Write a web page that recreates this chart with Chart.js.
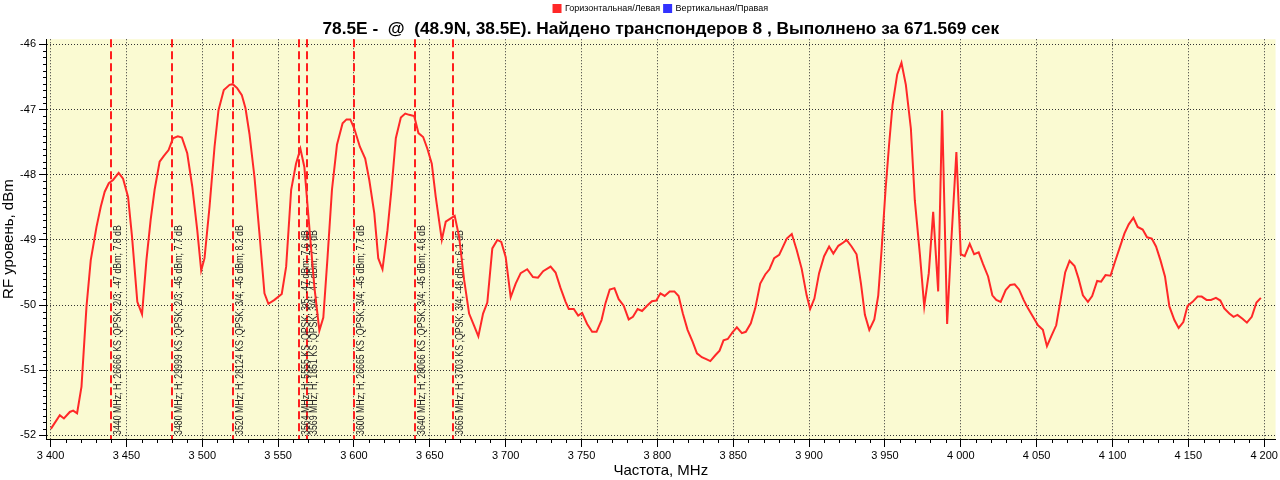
<!DOCTYPE html>
<html>
<head>
<meta charset="utf-8">
<script src="https://cdn.jsdelivr.net/npm/chart.js"></script>
<style>
html,body{margin:0;padding:0;background:#fff;}
</style>
</head>
<body>
<canvas id="spectrum" width="1280" height="480"></canvas>
<script>
/* spectrum scan data */
var freqMHz = [
  3400.2,3406.1,3408.8,3412.7,3414.9,3417.5,3420.4,3423.7,3426.5,3430.3,
  3433.1,3435.7,3438.4,3441.2,3444.9,3447.8,3451.1,3453.7,3457.2,3460.3,
  3463.2,3466.0,3468.6,3471.9,3474.7,3477.8,3480.7,3483.9,3486.6,3490.1,
  3493.4,3496.7,3499.3,3501.5,3504.8,3508.1,3510.7,3514.2,3518.0,3520.1,
  3523.0,3526.1,3528.5,3531.1,3534.4,3537.7,3541.0,3543.6,3547.6,3552.4,
  3555.3,3558.6,3561.8,3564.7,3567.3,3571.1,3573.9,3577.2,3579.8,3582.6,
  3585.5,3588.8,3592.5,3595.1,3597.6,3600.2,3603.9,3607.4,3610.1,3613.4,
  3616.0,3618.8,3622.1,3624.7,3627.6,3630.9,3633.8,3636.4,3639.7,3642.5,
  3645.6,3648.4,3651.3,3653.9,3657.9,3660.5,3663.8,3666.4,3669.3,3672.6,
  3675.9,3679.1,3682.0,3685.1,3687.9,3691.2,3694.5,3697.1,3700.0,3703.3,
  3706.6,3709.9,3714.2,3718.0,3721.3,3724.7,3729.6,3732.9,3736.2,3739.5,
  3741.6,3744.9,3747.8,3750.4,3753.7,3757.0,3759.9,3763.2,3765.8,3768.6,
  3771.7,3774.5,3777.8,3781.1,3783.9,3787.0,3789.9,3793.2,3796.4,3799.3,
  3802.0,3804.8,3808.1,3811.2,3814.0,3816.8,3819.9,3823.2,3826.1,3829.3,
  3832.2,3834.9,3838.2,3841.0,3843.6,3846.4,3849.5,3852.4,3855.7,3858.3,
  3861.6,3864.5,3867.8,3871.1,3873.9,3877.0,3880.3,3885.3,3888.6,3891.8,
  3895.1,3898.4,3900.7,3903.5,3906.6,3909.9,3913.2,3916.0,3919.3,3922.6,
  3924.7,3928.0,3931.3,3934.2,3936.8,3939.7,3943.0,3945.6,3947.8,3950.4,
  3952.8,3955.0,3958.1,3960.9,3963.8,3967.1,3969.7,3973.0,3975.9,3978.9,
  3981.8,3985.1,3987.7,3991.0,3993.8,3997.1,4000.0,4002.6,4005.9,4008.8,
  4011.8,4014.7,4018.0,4020.8,4023.4,4026.3,4029.6,4032.6,4035.5,4038.4,
  4041.4,4044.3,4047.6,4050.9,4054.1,4056.8,4059.6,4062.9,4065.8,4068.8,
  4071.7,4075.0,4077.6,4080.5,4083.8,4086.6,4089.9,4092.5,4095.4,4098.7,
  4101.7,4104.6,4107.9,4110.7,4113.8,4116.6,4119.9,4122.8,4125.9,4128.7,
  4131.6,4134.6,4137.5,4140.8,4143.6,4146.7,4149.5,4152.8,4156.1,4158.8,
  4162.0,4164.9,4168.2,4171.1,4173.7,4177.0,4179.8,4182.4,4185.7,4188.6,
  4191.8,4194.9,4197.8
];
var levelDbm = [
  -51.90,-51.69,-51.74,-51.64,-51.62,-51.66,-51.25,-50.02,-49.31,-48.80,
  -48.49,-48.26,-48.13,-48.08,-47.97,-48.06,-48.34,-48.95,-49.95,-50.14,
  -49.31,-48.69,-48.23,-47.80,-47.71,-47.62,-47.44,-47.41,-47.43,-47.67,
  -48.18,-48.85,-49.47,-49.28,-48.49,-47.57,-47.01,-46.70,-46.62,-46.61,
  -46.67,-46.78,-46.98,-47.37,-48.03,-48.90,-49.82,-49.98,-49.92,-49.83,
  -49.41,-48.23,-47.83,-47.60,-47.88,-48.95,-49.72,-50.39,-50.19,-49.26,
  -48.23,-47.54,-47.21,-47.15,-47.15,-47.29,-47.57,-47.75,-48.08,-48.59,
  -49.28,-49.45,-48.85,-48.23,-47.44,-47.12,-47.06,-47.08,-47.10,-47.36,
  -47.42,-47.60,-47.83,-48.34,-49.00,-48.72,-48.67,-48.63,-48.95,-49.61,
  -50.13,-50.31,-50.48,-50.13,-49.96,-49.13,-49.00,-49.03,-49.26,-49.88,
  -49.67,-49.51,-49.45,-49.57,-49.58,-49.48,-49.41,-49.50,-49.74,-49.95,
  -50.06,-50.06,-50.16,-50.12,-50.29,-50.41,-50.41,-50.23,-49.97,-49.76,
  -49.74,-49.91,-50.01,-50.22,-50.18,-50.06,-50.09,-50.01,-49.94,-49.93,
  -49.82,-49.86,-49.79,-49.79,-49.86,-50.13,-50.38,-50.56,-50.74,-50.80,
  -50.83,-50.86,-50.77,-50.70,-50.54,-50.52,-50.42,-50.34,-50.43,-50.41,
  -50.28,-50.05,-49.67,-49.53,-49.45,-49.28,-49.23,-48.98,-48.91,-49.15,
  -49.44,-49.85,-50.06,-49.90,-49.51,-49.25,-49.10,-49.21,-49.09,-49.04,
  -49.00,-49.10,-49.22,-49.67,-50.15,-50.38,-50.22,-49.85,-49.15,-48.23,
  -47.52,-46.93,-46.46,-46.28,-46.62,-47.29,-48.39,-49.21,-50.02,-49.51,
  -48.57,-49.79,-47.01,-50.29,-49.00,-47.65,-49.22,-49.25,-49.06,-49.22,
  -49.19,-49.37,-49.56,-49.85,-49.92,-49.95,-49.77,-49.69,-49.68,-49.76,
  -49.92,-50.05,-50.18,-50.31,-50.38,-50.63,-50.48,-50.31,-49.92,-49.50,
  -49.32,-49.40,-49.59,-49.85,-49.95,-49.86,-49.63,-49.64,-49.54,-49.55,
  -49.33,-49.13,-48.90,-48.76,-48.66,-48.80,-48.84,-48.96,-48.98,-49.10,
  -49.31,-49.56,-50.02,-50.23,-50.35,-50.26,-50.01,-49.95,-49.87,-49.87,
  -49.92,-49.92,-49.89,-49.93,-50.05,-50.13,-50.18,-50.15,-50.21,-50.27,
  -50.18,-49.96,-49.89
];

/* found transponders */
var tpFreq  = [3440, 3480, 3520, 3564, 3569, 3600, 3640, 3665];
var tpPol   = ["H", "H", "H", "H", "H", "H", "H", "H"];
var tpSr    = [26666, 29999, 28124, 5555, 1851, 26665, 28066, 3703];
var tpMod   = ["QPSK", "QPSK", "QPSK", "QPSK", "QPSK", "QPSK", "QPSK", "QPSK"];
var tpFec   = ["2/3", "2/3", "3/4", "3/5", "3/4", "3/4", "3/4", "3/4"];
var tpLevel = [-47, -45, -45, -47, -47, -45, -45, -48];
var tpCn    = [7.8, 7.7, 8.2, 7.6, 7.3, 7.7, 4.6, 6.1];

/* axis ticks */
var xTicks = [3400,3450,3500,3550,3600,3650,3700,3750,3800,3850,3900,3950,4000,4050,4100,4150,4200];
var yTicks = [-52, -51, -50, -49, -48, -47, -46];

var titleText = "78.5E -  @  (48.9N, 38.5E). Найдено транспондеров 8 , Выполнено за 671.569 сек";

Chart.defaults.font.family = "'Liberation Sans', Arial, sans-serif";
Chart.defaults.color = "#000";

var points = freqMHz.map(function(f, i){ return {x: f, y: levelDbm[i]}; });

/* yellow plot area */
var plotBg = {
  id: "plotBg",
  beforeDraw: function(chart){
    var a = chart.chartArea, ctx = chart.ctx;
    ctx.save();
    ctx.fillStyle = "#fafad2";
    ctx.fillRect(a.left, a.top, a.right - a.left, a.bottom - a.top);
    ctx.restore();
  }
};

/* dashed markers + labels of transponders */
var tpMarks = {
  id: "tpMarks",
  beforeDatasetsDraw: function(chart){
    var ctx = chart.ctx, a = chart.chartArea, xs = chart.scales.x;
    ctx.save();
    for (var i = 0; i < tpFreq.length; i++) {
      var px = Math.round(xs.getPixelForValue(tpFreq[i]));
      ctx.strokeStyle = "rgb(255,30,30)";
      ctx.lineWidth = 2;
      ctx.setLineDash([8, 4]);
      ctx.beginPath();
      ctx.moveTo(px, a.top);
      ctx.lineTo(px, a.bottom);
      ctx.stroke();
    }
    ctx.setLineDash([]);
    ctx.fillStyle = "#222";
    ctx.font = "10px 'Liberation Sans', Arial, sans-serif";
    ctx.textAlign = "left";
    ctx.textBaseline = "top";
    for (var j = 0; j < tpFreq.length; j++) {
      var lx = Math.round(xs.getPixelForValue(tpFreq[j]));
      var txt = tpFreq[j] + " MHz; " + tpPol[j] + "; " + tpSr[j] + " KS ;" + tpMod[j] + "; " +
                tpFec[j] + "; " + tpLevel[j] + " dBm; " + tpCn[j].toFixed(1) + " dB";
      ctx.save();
      ctx.translate(lx + 2, a.bottom - 4);
      ctx.rotate(-Math.PI / 2);
      ctx.scale(0.88, 1);
      ctx.fillText(txt, 0, 0);
      ctx.restore();
    }
    ctx.restore();
  }
};

/* small ticks between the labelled ones */
var minorTicks = {
  id: "minorTicks",
  afterDraw: function(chart){
    var ctx = chart.ctx, xs = chart.scales.x, ys = chart.scales.y, a = chart.chartArea;
    ctx.save();
    ctx.strokeStyle = "#000";
    ctx.lineWidth = 1;
    ctx.beginPath();
    for (var i = 0; i <= 60; i++) {
      if (i % 10 === 0) continue;
      var py = Math.round(ys.getPixelForValue(-52 + i * 0.1)) + 0.5;
      ctx.moveTo(a.left - 3, py);
      ctx.lineTo(a.left, py);
    }
    for (var f = 3400; f <= 4200; f += 10) {
      if (f % 50 === 0) continue;
      var px = Math.round(xs.getPixelForValue(f)) + 0.5;
      ctx.moveTo(px, a.bottom);
      ctx.lineTo(px, a.bottom + 4);
    }
    ctx.stroke();
    ctx.restore();
  }
};

new Chart(document.getElementById("spectrum"), {
  type: "line",
  data: {
    datasets: [
      {
        label: "Горизонтальная/Левая",
        data: points,
        borderColor: "rgb(255,40,40)",
        backgroundColor: "rgb(255,40,40)",
        borderWidth: 2,
        pointRadius: 0,
        tension: 0
      },
      {
        label: "Вертикальная/Правая",
        data: [],
        borderColor: "rgb(50,50,255)",
        backgroundColor: "rgb(50,50,255)",
        borderWidth: 2,
        pointRadius: 0
      }
    ]
  },
  options: {
    responsive: false,
    animation: false,
    layout: { padding: { top: 0, right: 2, left: 0, bottom: 0 } },
    plugins: {
      legend: {
        position: "top",
        fullSize: false,
        weight: 3000,
        labels: { boxWidth: 7, boxHeight: 7, padding: 4, font: { size: 9 }, color: "#000" }
      },
      title: {
        display: true,
        fullSize: false,
        text: titleText,
        font: { size: 17.3, weight: "bold", lineHeight: 0.8 },
        color: "#000",
        padding: { top: -0.8, bottom: 3.2 }
      },
      tooltip: { enabled: false }
    },
    scales: {
      x: {
        type: "linear",
        min: 3397,
        max: 4207.5,
        afterBuildTicks: function(s){ s.ticks = xTicks.map(function(v){ return {value: v}; }); },
        afterFit: function(s){ s.height = 41; },
        ticks: {
          autoSkip: false,
          maxRotation: 0,
          padding: 2,
          font: { size: 11 },
          color: "#000",
          callback: function(v){ return String(v).replace(/\B(?=(\d{3})+(?!\d))/g, " "); }
        },
        grid: { color: "#333", tickLength: 8, tickColor: "#000", tickBorderDash: [1, 0] },
        border: { display: true, color: "#000", width: 1, dash: [1, 2] },
        title: { display: true, text: "Частота, MHz", font: { size: 15 }, color: "#000", padding: { top: 0, bottom: 0 } }
      },
      y: {
        min: -52.055,
        max: -45.92,
        afterBuildTicks: function(s){ s.ticks = yTicks.map(function(v){ return {value: v}; }); },
        afterFit: function(s){ s.width = 46; },
        ticks: {
          padding: 3,
          font: { size: 11 },
          color: "#000",
          callback: function(v){ return String(v); }
        },
        grid: { color: "#333", tickLength: 7, tickColor: "#000", tickBorderDash: [1, 0] },
        border: { display: true, color: "#000", width: 1, dash: [1, 2] },
        title: { display: true, text: "RF уровень, dBm", font: { size: 15 }, color: "#000", padding: { top: 0, bottom: 0 } }
      }
    }
  },
  plugins: [plotBg, tpMarks, minorTicks]
});
</script>
</body>
</html>
